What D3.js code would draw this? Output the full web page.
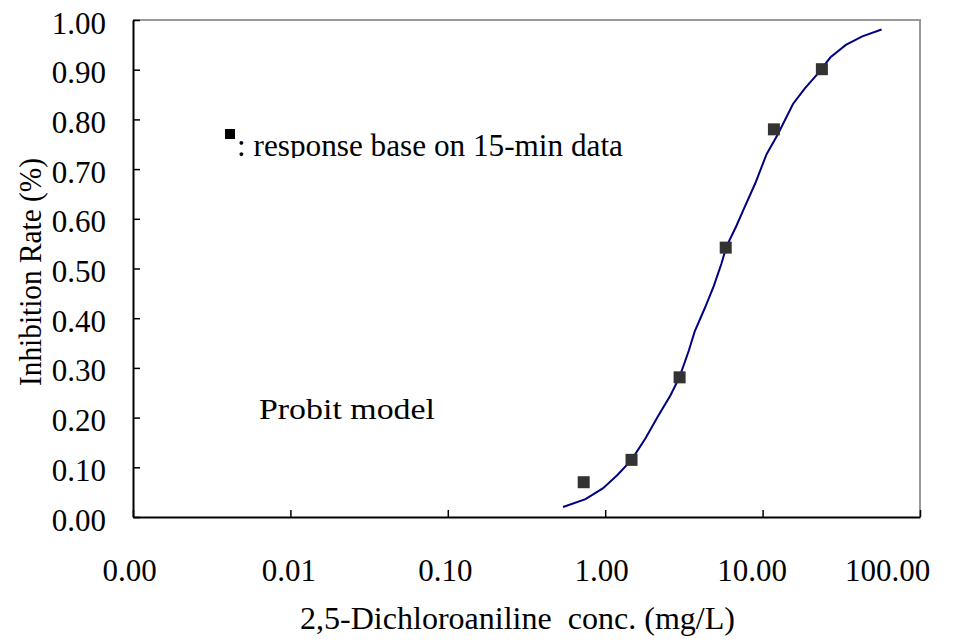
<!DOCTYPE html>
<html>
<head>
<meta charset="utf-8">
<script src="https://cdn.jsdelivr.net/npm/d3@7"></script>
<style>
  body { margin: 0; background: #fff; }
  svg text { font-family: "Liberation Serif", "Times New Roman", serif; fill: #000; }
</style>
</head>
<body>
<svg id="chart" width="963" height="641"></svg>
<script>
// measured points (15-min response)
var concData = [0.73, 1.47, 2.97, 5.83, 11.8, 23.8];
var rateData = [0.070, 0.115, 0.281, 0.542, 0.780, 0.901];

// probit model curve
var curveConc = [0.54, 0.75, 0.97, 1.2, 1.47, 1.8, 2.16, 2.6, 2.97, 3.4, 3.7, 4.29, 4.9, 5.48, 5.89, 6.8, 7.7, 9.0, 10.6, 12.5, 15.6, 18.5, 22.0, 27.0, 33.8, 43.0, 57.0];
var curveRate = [0.020, 0.036, 0.058, 0.085, 0.115, 0.158, 0.202, 0.245, 0.282, 0.335, 0.373, 0.420, 0.465, 0.510, 0.544, 0.585, 0.624, 0.672, 0.730, 0.770, 0.831, 0.862, 0.889, 0.925, 0.950, 0.967, 0.981];

var xTicks = [0.001, 0.01, 0.1, 1, 10, 100];
var xTickShift = [-4, -2, -3, -4, -11, -33]; // labels sit a bit left of their ticks
var yTicks = [0, 0.1, 0.2, 0.3, 0.4, 0.5, 0.6, 0.7, 0.8, 0.9, 1.0];

var dims = {
    margin: { top: 20, right: 43, bottom: 124, left: 133 },
    width: 963,
    height: 641
};
var w = dims.width - dims.margin.left - dims.margin.right;
var h = dims.height - dims.margin.top - dims.margin.bottom;

var svg = d3.select("#chart");
var g = svg.append("g")
    .attr("transform", `translate(${dims.margin.left},${dims.margin.top})`);

var xScale = d3.scaleLog().domain([0.001, 100]).range([0, w]);
var yScale = d3.scaleLinear().domain([0, 1]).range([h, 0]);

// top and right border (grey)
g.append("path")
    .attr("d", `M0,0H${w}V${h}`)
    .attr("fill", "none")
    .attr("stroke", "#999")
    .attr("stroke-width", 2);

// y axis, ticks pointing inside
var yAxis = g.append("g")
    .call(d3.axisLeft(yScale)
        .tickValues(yTicks)
        .tickFormat(d3.format(".2f"))
        .tickSizeInner(-7)
        .tickSizeOuter(0)
        .tickPadding(27));

// x axis, ticks pointing up
var xAxis = g.append("g")
    .attr("transform", `translate(0,${h})`)
    .call(d3.axisBottom(xScale)
        .tickValues(xTicks)
        .tickFormat(d3.format(".2f"))
        .tickSizeInner(-7)
        .tickSizeOuter(0)
        .tickPadding(42));

[yAxis, xAxis].forEach(function(ax) {
    ax.select(".domain").attr("stroke", "#000").attr("stroke-width", 2);
    ax.selectAll(".tick line").attr("stroke", "#000").attr("stroke-width", 1.5);
    ax.selectAll("text")
        .attr("font-family", "Liberation Serif")
        .attr("font-size", 31)
        .attr("fill", "#000");
});
yAxis.selectAll("text").attr("dy", "0.42em");
xAxis.selectAll(".tick text").attr("dx", (d, i) => xTickShift[i]);

// probit curve
var line = d3.line()
    .x((d, i) => xScale(curveConc[i]))
    .y((d, i) => yScale(curveRate[i]));

g.append("path")
    .datum(curveRate)
    .attr("d", line)
    .attr("fill", "none")
    .attr("stroke", "#000080")
    .attr("stroke-width", 2);

// data markers
var sq = 12;
g.selectAll("rect.pt")
    .data(rateData)
    .enter()
    .append("rect")
    .attr("class", "pt")
    .attr("x", (d, i) => xScale(concData[i]) - sq / 2)
    .attr("y", d => yScale(d) - sq / 2)
    .attr("width", sq)
    .attr("height", sq)
    .attr("fill", "#333");

// legend note (text clipped at bottom like the original text box)
svg.append("clipPath").attr("id", "noteClip")
    .append("rect").attr("x", 200).attr("y", 110).attr("width", 500).attr("height", 48);

svg.append("rect")
    .attr("x", 225).attr("y", 129).attr("width", 10).attr("height", 10)
    .attr("fill", "#000");

svg.append("text")
    .attr("x", 237).attr("y", 156)
    .attr("font-size", 31)
    .attr("clip-path", "url(#noteClip)")
    .attr("textLength", 386)
    .attr("lengthAdjust", "spacingAndGlyphs")
    .text(": response base on 15-min data");

svg.append("text")
    .attr("x", 259).attr("y", 419)
    .attr("font-size", 30)
    .attr("textLength", 176)
    .attr("lengthAdjust", "spacingAndGlyphs")
    .text("Probit model");

// axis titles
svg.append("text")
    .attr("transform", "translate(41,272) rotate(-90)")
    .attr("text-anchor", "middle")
    .attr("font-size", 31)
    .attr("textLength", 228)
    .attr("lengthAdjust", "spacingAndGlyphs")
    .text("Inhibition Rate (%)");

svg.append("text")
    .attr("x", 300).attr("y", 629)
    .attr("font-size", 31)
    .attr("textLength", 435)
    .attr("lengthAdjust", "spacingAndGlyphs")
    .style("white-space", "pre")
    .text("2,5-Dichloroaniline  conc. (mg/L)");
</script>
</body>
</html>
